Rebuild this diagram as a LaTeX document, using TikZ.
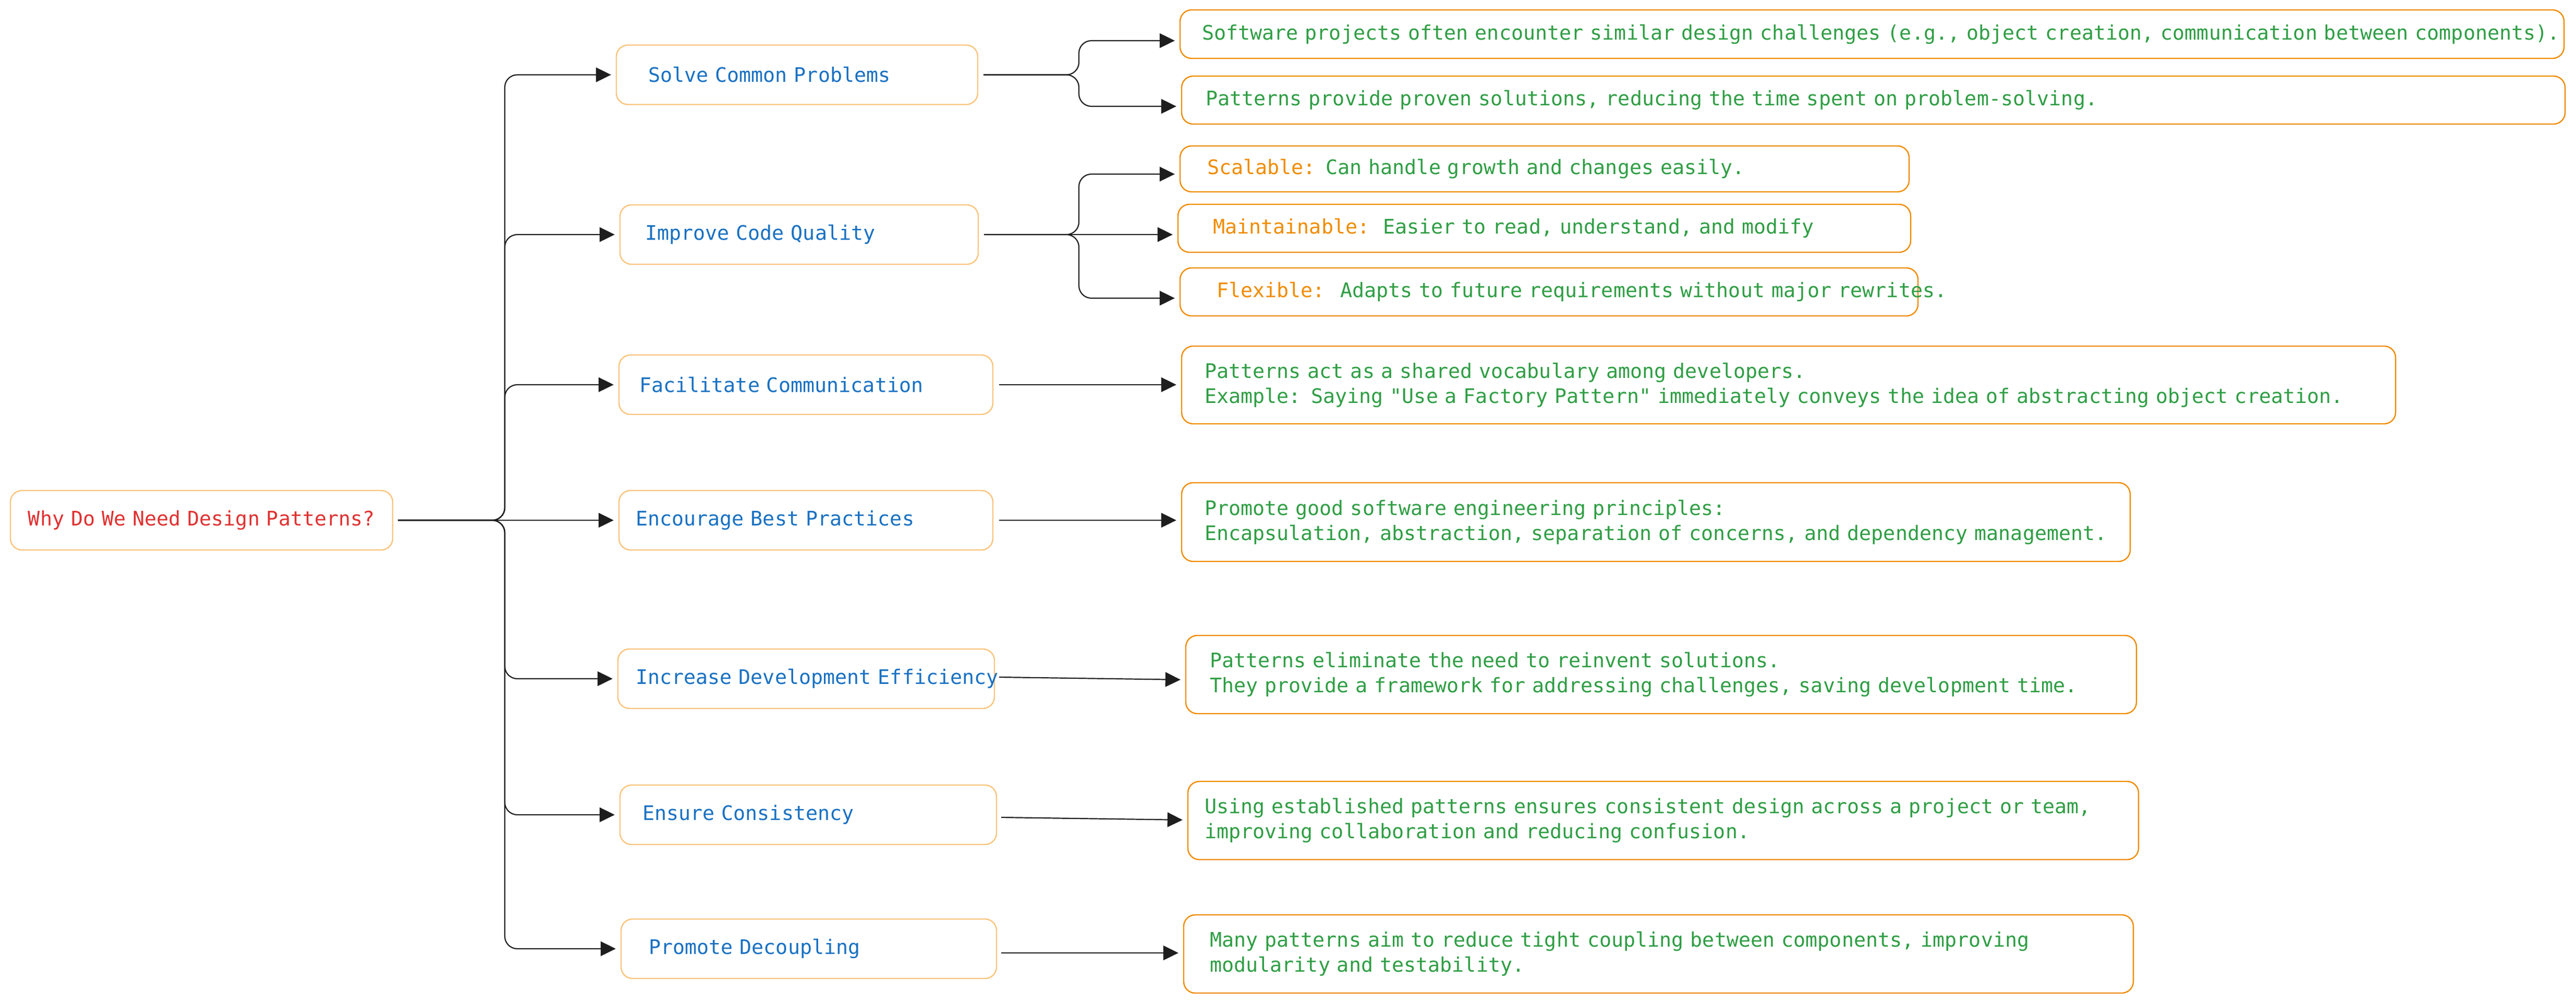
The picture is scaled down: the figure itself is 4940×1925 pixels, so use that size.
\documentclass[tikz,border=0pt]{standalone}
\usepackage{fontspec}
\newfontfamily\dmono{DejaVu Sans Mono}
\usetikzlibrary{arrows.meta}
\definecolor{lorg}{HTML}{F9C47C}
\definecolor{borg}{HTML}{F08C00}
\definecolor{tblue}{HTML}{1971C2}
\definecolor{tgreen}{HTML}{2F9E44}
\definecolor{tred}{HTML}{E03131}
\definecolor{ink}{HTML}{1E1E1E}
\newcommand{\monofont}{\dmono\fontsize{38.4pt}{48pt}\selectfont}
\begin{document}
\begin{tikzpicture}[x=1pt,y=-1pt,
  txt/.style={font=\monofont},
  base/.style={txt, rounded corners=22pt, line width=2.4pt, fill=white, align=left, inner ysep=0pt},
  rootbox/.style={base, draw=lorg, text=tred, align=center},
  lone/.style={base, draw=lorg, text=tblue, minimum height=114pt},
  ltwo/.style={base, draw=borg, text=tgreen},
  arr/.style={draw=ink, line width=2.2pt, -{Triangle[length=29pt,width=28pt]}, shorten >=9pt},
  fork/.style={arr, rounded corners=24pt}]
\useasboundingbox (0,0) rectangle (4940,1925);
\fill[white] (0,0) rectangle (4940,1925);

% root
\node[rootbox, text width=693pt, inner xsep=20pt, minimum height=114pt] (root) at (386.5,998)
  {\mbox{Why Do We Need Design Patterns?}};

% level one
\node[lone, text width=571pt, inner xsep=61pt] (s1) at (1528.5,143.5) {\mbox{Solve Common Problems}};
\node[lone, text width=591pt, inner xsep=48pt] (s2) at (1532.5,450) {\mbox{Improve Code Quality}};
\node[lone, text width=639pt, inner xsep=39pt] (s3) at (1545.5,738) {\mbox{Facilitate Communication}};
\node[lone, text width=653pt, inner xsep=32pt] (s4) at (1545.5,998) {\mbox{Encourage Best Practices}};
\node[lone, text width=654pt, inner xsep=34pt] (s5) at (1546,1302) {\mbox{Increase Development Efficiency}};
\node[lone, text width=636pt, inner xsep=43pt] (s6) at (1550,1563) {\mbox{Ensure Consistency}};
\node[lone, text width=614pt, inner xsep=53pt] (s7) at (1551,1820) {\mbox{Promote Decoupling}};

% level two
\node[ltwo, text width=2570pt, inner xsep=42pt, minimum height=93pt] (b1a) at (3590,65.5)
  {\mbox{Software projects often encounter similar design challenges (e.g., object creation, communication between components).}};
\node[ltwo, text width=2561pt, inner xsep=46pt, minimum height=92pt] (b1b) at (3592.5,192)
  {\mbox{Patterns provide proven solutions, reducing the time spent on problem-solving.}};
\node[ltwo, text width=1294pt, inner xsep=52pt, minimum height=88pt] (b2a) at (2962,324)
  {\mbox{\textcolor{borg}{Scalable:} Can handle growth and changes easily.}};
\node[ltwo, text width=1271pt, inner xsep=67pt, minimum height=92pt] (b2b) at (2961.5,438)
  {\mbox{\textcolor{borg}{Maintainable:}\ \ Easier to read, understand, and modify}};
\node[ltwo, text width=1275pt, inner xsep=70pt, minimum height=92pt] (b2c) at (2970.5,560)
  {\mbox{\textcolor{borg}{Flexible:}\hspace{10pt} Adapts to future requirements without major rewrites.}};
\node[ltwo, text width=2240pt, inner xsep=44pt, minimum height=149pt] (b3) at (3430,738.5)
  {\mbox{Patterns act as a shared vocabulary among developers.}\\
   \mbox{Example: Saying "Use a Factory Pattern" immediately conveys the idea of abstracting object creation.}};
\node[ltwo, text width=1731pt, inner xsep=44pt, minimum height=151pt] (b4) at (3175.5,1001.5)
  {\mbox{Promote good software engineering principles:}\\
   \mbox{Encapsulation, abstraction, separation of concerns, and dependency management.}};
\node[ltwo, text width=1731pt, inner xsep=46pt, minimum height=150pt] (b5) at (3185.5,1294)
  {\mbox{Patterns eliminate the need to reinvent solutions.}\\
   \mbox{They provide a framework for addressing challenges, saving development time.}};
\node[ltwo, text width=1759pt, inner xsep=32pt, minimum height=150pt] (b6) at (3189.5,1574)
  {\mbox{Using established patterns ensures consistent design across a project or team,}\\
   \mbox{improving collaboration and reducing confusion.}};
\node[ltwo, text width=1721pt, inner xsep=50pt, minimum height=150pt] (b7) at (3180.5,1830)
  {\mbox{Many patterns aim to reduce tight coupling between components, improving}\\
   \mbox{modularity and testability.}};

% trunk connectors
\coordinate (trunk) at (968,998);
\draw[fork] ([xshift=9pt]root.east) -- (trunk) |- (s1.west);
\draw[fork] ([xshift=9pt]root.east) -- (trunk) |- (s2.west);
\draw[fork] ([xshift=9pt]root.east) -- (trunk) |- (s3.west);
\draw[arr]  ([xshift=9pt]root.east) -- (s4.west);
\draw[fork] ([xshift=9pt]root.east) -- (trunk) |- (s5.west);
\draw[fork] ([xshift=9pt]root.east) -- (trunk) |- (s6.west);
\draw[fork] ([xshift=9pt]root.east) -- (trunk) |- (s7.west);

% level two connectors
\coordinate (f1) at (2069,143.5);
\coordinate (f2) at (2069,450);
\draw[fork] ([xshift=10pt]s1.east) -- (f1) |- ([yshift=-12.5pt]b1a.west);
\draw[fork] ([xshift=10pt]s1.east) -- (f1) |- ([yshift=-12pt]b1b.west);
\draw[fork] ([xshift=10pt]s2.east) -- (f2) |- ([yshift=-10pt]b2a.west);
\draw[arr]  ([xshift=10pt]s2.east) -- (s2.east -| b2b.west);
\draw[fork] ([xshift=10pt]s2.east) -- (f2) |- ([yshift=-12pt]b2c.west);
\draw[arr] ([xshift=11pt]s3.east) -- (s3.east -| b3.west);
\draw[arr] ([xshift=11pt]s4.east) -- (s4.east -| b4.west);
\draw[arr] ([xshift=8pt,yshift=3pt]s5.east) -- ([yshift=-10pt]b5.west);
\draw[arr] ([xshift=8pt,yshift=-5pt]s6.east) -- ([yshift=1pt]b6.west);
\draw[arr] ([xshift=8pt,yshift=-8pt]s7.east) -- ([yshift=2pt]b7.west);
\end{tikzpicture}
\end{document}
